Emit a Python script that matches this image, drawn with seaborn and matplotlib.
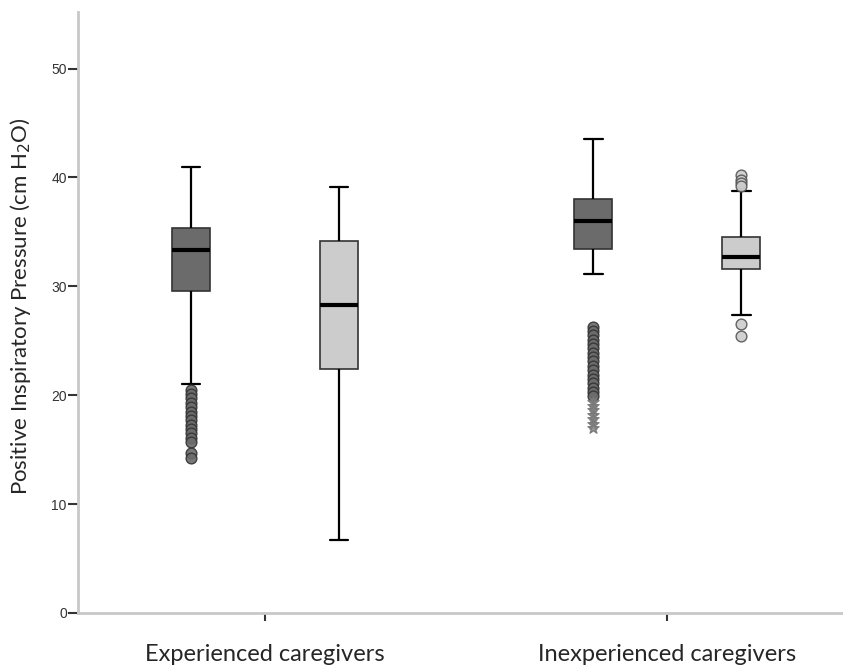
import pandas as pd
import matplotlib.pyplot as plt
import seaborn as sns

# Five-number summaries: lower whisker, Q1, median, Q3, upper whisker
groups = ['Experienced caregivers', 'Inexperienced caregivers']
conditions = ['Condition 1', 'Condition 2']
exp_cond1 = [21.0, 29.6, 33.3, 35.4, 41.0]
exp_cond2 = [6.7, 22.4, 28.3, 34.2, 39.1]
inexp_cond1 = [31.1, 33.4, 36.0, 38.0, 43.5]
inexp_cond2 = [27.4, 31.6, 32.7, 34.5, 38.8]

# Outliers (circles) and extreme values (stars)
exp_cond1_out = [20.5, 20.1, 19.7, 19.3, 18.9, 18.5, 18.1, 17.7, 17.3, 16.9,
                 16.5, 16.1, 15.75, 14.7, 14.2]
inexp_cond1_out = [26.3, 25.9, 25.5, 25.1, 24.7, 24.3, 23.9, 23.5, 23.1, 22.7,
                   22.3, 21.9, 21.5, 21.1, 20.7, 20.3, 19.9]
inexp_cond1_ext = [19.4, 19.0, 18.6, 18.2, 17.8, 17.4, 17.0]
inexp_cond2_out = [40.2, 39.8, 39.5, 39.2, 26.55, 25.4]

rows = []
for g, c, vals in [(groups[0], conditions[0], exp_cond1),
                   (groups[0], conditions[1], exp_cond2),
                   (groups[1], conditions[0], inexp_cond1),
                   (groups[1], conditions[1], inexp_cond2)]:
    for v in vals:
        rows.append({'group': g, 'condition': c, 'pip': v})
df = pd.DataFrame(rows)

sns.set_style('white')
plt.rcParams['font.family'] = ['Lato', 'DejaVu Sans']

fig = plt.figure(figsize=(8.43, 6.66), dpi=100)
ax = fig.add_axes([0.0925, 0.0796, 0.9075, 0.9024])

palette = {'Condition 1': '#6b6b6b', 'Condition 2': '#cccccc'}
width = 0.736
sns.boxplot(data=df, x='group', y='pip', hue='condition', palette=palette,
            whis=(0, 100), width=width, gap=0.745, showfliers=False,
            linecolor='#333333', linewidth=1.2,
            medianprops={'color': 'black', 'linewidth': 3},
            whiskerprops={'color': 'black', 'linewidth': 1.6},
            capprops={'color': 'black', 'linewidth': 1.6},
            legend=False, ax=ax)

# outliers drawn at the dodged box positions
off = width / 4
for gi, ci, vals, marker, fc, ec in [
        (0, 0, exp_cond1_out, 'o', '#6b6b6b', '#333333'),
        (1, 0, inexp_cond1_out, 'o', '#6b6b6b', '#333333'),
        (1, 0, inexp_cond1_ext, '*', '#8a8a8a', '#777777'),
        (1, 1, inexp_cond2_out, 'o', '#cccccc', '#555555')]:
    xpos = gi + (off if ci == 1 else -off)
    ax.scatter([xpos] * len(vals), vals, marker=marker, s=60 if marker == 'o' else 70,
               facecolor=fc, edgecolor=ec, linewidth=1.0, alpha=0.9, zorder=3)

ax.set_xlim(-0.465, 1.437)
ax.set_ylim(0, 55.2)
ax.set_yticks([0, 10, 20, 30, 40, 50])
ax.set_yticklabels(['0', '10', '20', '30', '40', '50'], family='Liberation Sans',
                   fontsize=10, color='#333333')
ax.tick_params(axis='y', direction='out', length=7, width=1.5, color='#333333', pad=1,
               left=True)
ax.tick_params(axis='x', direction='out', length=6, width=1.5, color='#333333', pad=16,
               labelsize=17, bottom=True)
ax.set_xlabel('')
ax.set_ylabel('Positive Inspiratory Pressure (cm H$_2$O)', fontsize=16)
ax.yaxis.set_label_coords(-0.059, 0.51)

sns.despine(ax=ax)
for side in ['left', 'bottom']:
    ax.spines[side].set_color('#c8c8c8')
    ax.spines[side].set_linewidth(2)

plt.savefig('out.png', dpi=100)
